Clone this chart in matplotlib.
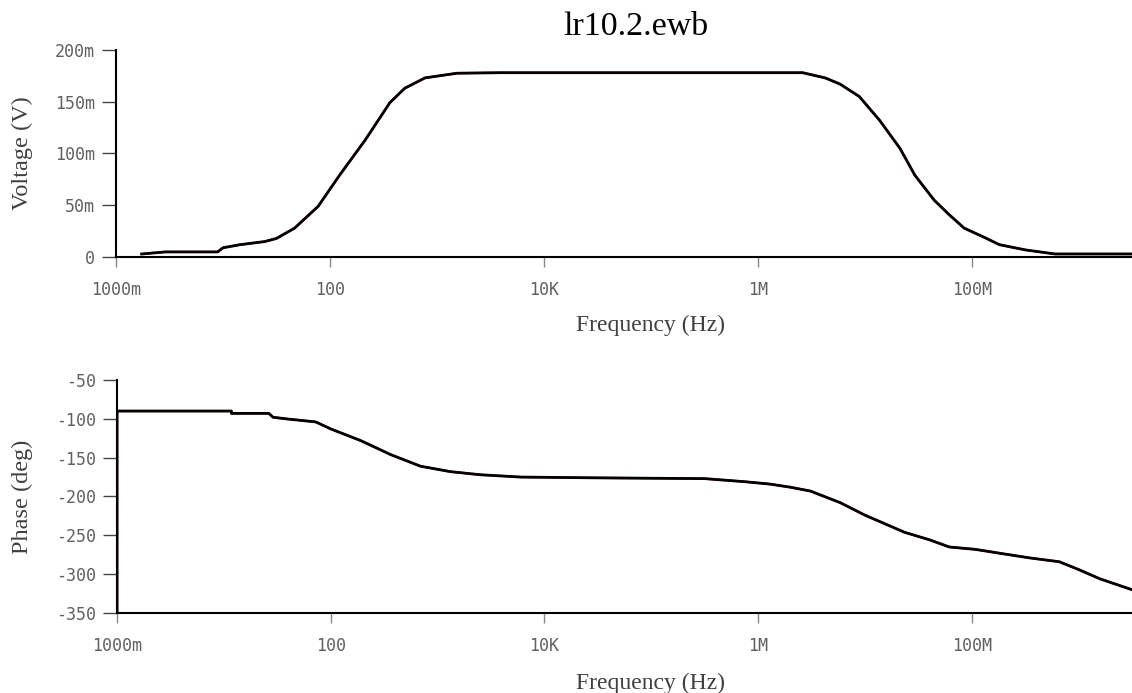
import numpy as np
import matplotlib.pyplot as plt

# magnitude trace (log10 of frequency, volts)
mag_logf = [0.24, 0.46, 0.95, 1.0, 1.16, 1.39, 1.5, 1.67, 1.89, 2.09, 2.33, 2.56,
            2.7, 2.89, 3.19, 3.6, 6.42, 6.63, 6.77, 6.95, 7.14, 7.33, 7.47, 7.65,
            7.79, 7.93, 8.12, 8.26, 8.5, 8.78, 9.5]
mag_v = [0.003, 0.005, 0.005, 0.009, 0.012, 0.015, 0.018, 0.028, 0.049, 0.079, 0.113, 0.149,
         0.163, 0.173, 0.1775, 0.178, 0.178, 0.173, 0.167, 0.155, 0.132, 0.105, 0.079, 0.055,
         0.041, 0.028, 0.019, 0.012, 0.007, 0.003, 0.003]

# phase trace (log10 of frequency, degrees)
ph_logf = [0.0, 0.0, 1.07, 1.07, 1.42, 1.46, 1.58, 1.86, 2.0, 2.28, 2.56, 2.84, 3.12,
           3.4, 3.78, 4.5, 5.5, 5.88, 6.11, 6.3, 6.49, 6.77, 7.0, 7.37, 7.61, 7.79,
           8.03, 8.26, 8.54, 8.82, 9.0, 9.2, 9.5]
ph_deg = [-360, -90, -90, -93, -93, -98, -100, -104, -113, -128, -146, -161, -168,
          -172, -175, -176, -177, -181, -184, -188, -193, -208, -224, -246, -256, -265,
          -268, -273, -279, -284, -294, -306, -320]

xticks = [1, 1e2, 1e4, 1e6, 1e8]
xticklabels = ['1000m', '100', '10K', '1M', '100M']
vticks = [0, 0.05, 0.1, 0.15, 0.2]
vticklabels = ['0', '50m', '100m', '150m', '200m']
pticks = [-350, -300, -250, -200, -150, -100, -50]

serif = 'Liberation Serif'
mono = 'DejaVu Sans Mono'
tickgray = '#606060'
labelgray = '#404040'

fig = plt.figure(figsize=(11.32, 6.93), dpi=100)
ax1 = fig.add_axes([0.1025, 0.629, 0.8975, 0.299])
ax2 = fig.add_axes([0.1034, 0.1154, 0.8966, 0.3363])

f_mag = 10 ** np.array(mag_logf)
f_ph = 10 ** np.array(ph_logf)

ax1.plot(f_mag, mag_v, color='red', lw=1.6, zorder=2)
ax1.plot(f_mag, mag_v, color='black', lw=2.0, zorder=3)
ax2.plot(f_ph, ph_deg, color='red', lw=1.6, zorder=2)
ax2.plot(f_ph, ph_deg, color='black', lw=2.0, zorder=3)

for ax in (ax1, ax2):
    ax.set_xscale('log')
    ax.set_xlim(1, 10 ** 9.5)
    ax.set_xticks(xticks)
    ax.set_xticklabels(xticklabels, fontfamily=mono, fontsize=12, color=tickgray)
    ax.minorticks_off()
    for s in ('top', 'right'):
        ax.spines[s].set_visible(False)
    ax.spines['left'].set_linewidth(1.5)
    ax.spines['bottom'].set_linewidth(1.5)
    ax.tick_params(axis='x', length=7, width=1, color='#888888', pad=10)
    ax.tick_params(axis='y', length=10, width=1, color='#444444', pad=5)
    ax.set_xlabel('Frequency (Hz)', fontfamily=serif, fontsize=17, color=labelgray)

ax1.set_ylim(0, 0.2)
ax1.set_yticks(vticks)
ax1.set_yticklabels(vticklabels, fontfamily=mono, fontsize=12, color=tickgray)
ax1.set_ylabel('Voltage (V)', fontfamily=serif, fontsize=17.5, color=labelgray)
ax1.xaxis.set_label_coords(0.526, -0.28)
ax1.yaxis.set_label_coords(-0.082, 0.5)

ax2.set_ylim(-350, -50)
ax2.set_yticks(pticks)
ax2.set_yticklabels([str(t) for t in pticks], fontfamily=mono, fontsize=12, color=tickgray)
ax2.set_ylabel('Phase (deg)', fontfamily=serif, fontsize=17.5, color=labelgray)
ax2.xaxis.set_label_coords(0.526, -0.258)
ax2.yaxis.set_label_coords(-0.083, 0.5)

fig.text(0.5618, 0.962, 'lr10.2.ewb', fontfamily=serif, fontsize=24.5, ha='center', va='center')

fig.savefig('out.png', dpi=100)
